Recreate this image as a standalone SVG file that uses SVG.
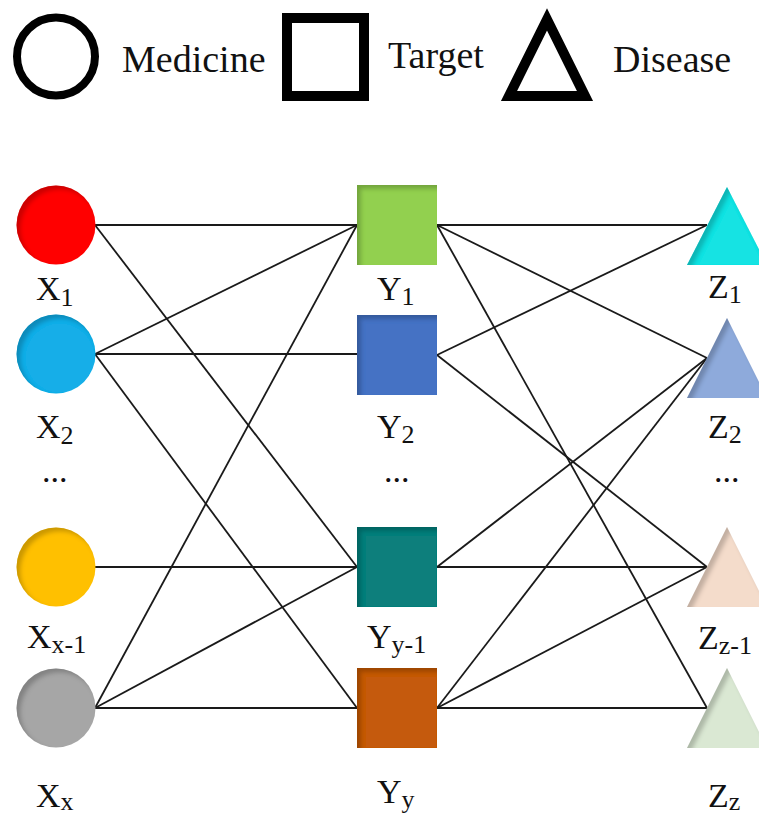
<svg xmlns="http://www.w3.org/2000/svg" width="759" height="820" viewBox="0 0 759 820">
<style>
.lbl{font-family:"Liberation Serif","Times New Roman",serif;font-size:34px;fill:#111}
.sub{font-size:26px}
.leg{font-family:"Liberation Serif","Times New Roman",serif;font-size:38px;fill:#111}
.edge{stroke:#1a1a1a;stroke-width:1.8;fill:none}
.node{filter:url(#bevel)}
</style>
<defs>
<filter id="bevel" x="-10%" y="-10%" width="120%" height="120%">
<feOffset in="SourceAlpha" dx="4" dy="4" result="off"/>
<feGaussianBlur in="off" stdDeviation="2" result="blur"/>
<feComposite in="SourceAlpha" in2="blur" operator="out" result="rim"/>
<feFlood flood-color="#000" flood-opacity="0.4"/>
<feComposite in2="rim" operator="in" result="shadow"/>
<feMerge><feMergeNode in="SourceGraphic"/><feMergeNode in="shadow"/></feMerge>
</filter>
</defs>
<rect width="759" height="820" fill="#fff"/>

<g id="legend">
<circle cx="56" cy="56.5" r="39" fill="none" stroke="#000" stroke-width="8"/>
<text class="leg" x="122" y="72">Medicine</text>
<rect x="287" y="18" width="77" height="78" fill="none" stroke="#000" stroke-width="10"/>
<text class="leg" x="388" y="68">Target</text>
<path d="M547,19.4 L509,96 L585,96 Z" fill="none" stroke="#000" stroke-width="10" stroke-linejoin="miter" stroke-miterlimit="10"/>
<text class="leg" x="613" y="72">Disease</text>
</g>

<g id="connectors">
<line class="edge" x1="95" y1="225" x2="357" y2="225"/>
<line class="edge" x1="95" y1="225" x2="357" y2="567"/>
<line class="edge" x1="95" y1="354" x2="357" y2="225"/>
<line class="edge" x1="95" y1="354" x2="357" y2="354"/>
<line class="edge" x1="95" y1="354" x2="357" y2="708"/>
<line class="edge" x1="95" y1="567" x2="357" y2="567"/>
<line class="edge" x1="95" y1="708" x2="357" y2="225"/>
<line class="edge" x1="95" y1="708" x2="357" y2="567"/>
<line class="edge" x1="95" y1="708" x2="357" y2="708"/>
<line class="edge" x1="437" y1="225" x2="707" y2="225"/>
<line class="edge" x1="437" y1="225" x2="707" y2="358"/>
<line class="edge" x1="437" y1="225" x2="707" y2="708"/>
<line class="edge" x1="437" y1="355" x2="707" y2="225"/>
<line class="edge" x1="437" y1="355" x2="707" y2="567"/>
<line class="edge" x1="437" y1="567" x2="707" y2="358"/>
<line class="edge" x1="437" y1="567" x2="707" y2="567"/>
<line class="edge" x1="437" y1="708" x2="707" y2="358"/>
<line class="edge" x1="437" y1="708" x2="707" y2="567"/>
<line class="edge" x1="437" y1="708" x2="707" y2="708"/>
</g>

<g id="X1"><circle class="node" cx="56" cy="225" r="39.5" fill="#ff0000"/>
<text class="lbl" x="36" y="300">X<tspan class="sub" dy="6">1</tspan></text></g>
<g id="X2"><circle class="node" cx="56" cy="354" r="39.5" fill="#12aee8"/>
<text class="lbl" x="36" y="438">X<tspan class="sub" dy="6">2</tspan></text></g>
<g id="Xdots"><text class="lbl" x="42" y="482">...</text></g>
<g id="Xx-1"><circle class="node" cx="56" cy="567" r="39.5" fill="#ffc000"/>
<text class="lbl" x="27" y="648">X<tspan class="sub" dy="5">x-1</tspan></text></g>
<g id="Xx"><circle class="node" cx="56" cy="708" r="39.5" fill="#a6a6a6"/>
<text class="lbl" x="36" y="807">X<tspan class="sub" dy="3">x</tspan></text></g>

<g id="Y1"><rect class="node" x="357" y="185" width="80" height="80" fill="#92d050"/>
<text class="lbl" x="377" y="300">Y<tspan class="sub" dy="5">1</tspan></text></g>
<g id="Y2"><rect class="node" x="357" y="315" width="80" height="80" fill="#4472c4"/>
<text class="lbl" x="377" y="438">Y<tspan class="sub" dy="5">2</tspan></text></g>
<g id="Ydots"><text class="lbl" x="384" y="482">...</text></g>
<g id="Yy-1"><rect class="node" x="357" y="527" width="80" height="80" fill="#0a7f7c"/>
<text class="lbl" x="367" y="648">Y<tspan class="sub" dy="5">y-1</tspan></text></g>
<g id="Yy"><rect class="node" x="357" y="668" width="80" height="80" fill="#c55a11"/>
<text class="lbl" x="377" y="803">Y<tspan class="sub" dy="5">y</tspan></text></g>

<g id="Z1"><polygon class="node" points="727,187 767,265 687,265" fill="#14e3e3"/>
<text class="lbl" x="708" y="298">Z<tspan class="sub" dy="5">1</tspan></text></g>
<g id="Z2"><polygon class="node" points="727,318 767,398 687,398" fill="#8eaadb"/>
<text class="lbl" x="708" y="438">Z<tspan class="sub" dy="5">2</tspan></text></g>
<g id="Zdots"><text class="lbl" x="714" y="482">...</text></g>
<g id="Zz-1"><polygon class="node" points="727,527 767,607 687,607" fill="#f4dccb"/>
<text class="lbl" x="698" y="649">Z<tspan class="sub" dy="5">z-1</tspan></text></g>
<g id="Zz"><polygon class="node" points="727,668 767,748 687,748" fill="#dae8d3"/>
<text class="lbl" x="708" y="807">Z<tspan class="sub" dy="3">z</tspan></text></g>
</svg>
